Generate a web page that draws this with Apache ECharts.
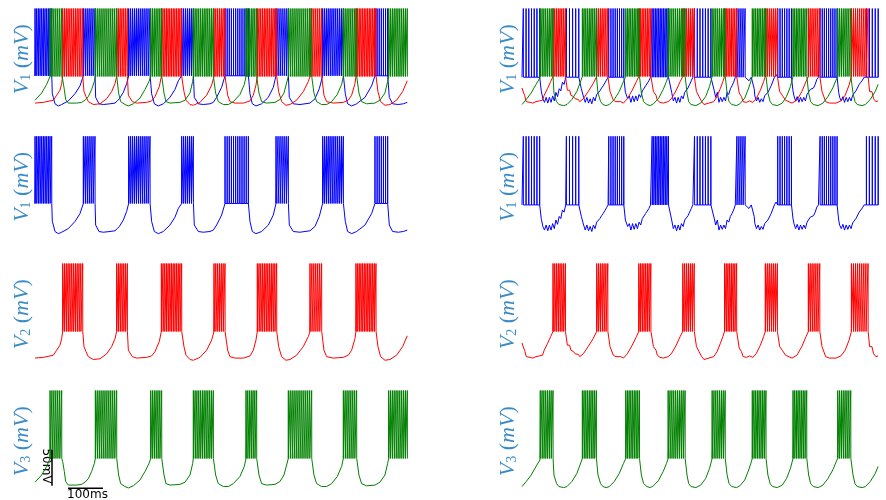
<!DOCTYPE html>
<html><head><meta charset="utf-8">
<script src="https://cdn.jsdelivr.net/npm/echarts@6/dist/echarts.min.js"></script>
<style>html,body{margin:0;padding:0;background:#fff}#c{width:886px;height:500px}</style>
</head><body><div id="c"></div><script>
// time in ms, voltage in mV
const timeSpan = 1063;
const vMin = -97, vMax = 40, spikePeak = 45;
const scaleBarTime = 100, scaleBarVolt = 50;
const yLabels = ['1', '1', '2', '3'];

// bursts: [start ms, end ms, number of spikes]; sub: subthreshold trajectory [ms, mV]
const plateau = {V1L: -53, V2L: -54, V3L: -54, V1R: -55, V2R: -54, V3R: -54};

const V1L_bursts = [[0,47.6,11],[138.1,171.4,7],[267.6,328.6,12],[419,452.4,7],[542.9,609.5,12],[688.6,723.8,7],[821.9,881,12],[971.4,1007.6,7]];
const V1L_sub = [[0,-53],[47.6,-53],[49.5,-78],[52.4,-83],[57.1,-92],[66.7,-95],[76.2,-93],[95.2,-88],[114.3,-78],[128.6,-67],[138.1,-53],
[171.4,-53],[173.3,-83],[182.9,-92],[195.2,-93],[214.3,-92],[228.6,-91],[235.2,-88],[241,-85],[252.4,-76],[261.9,-64],[267.6,-53],
[328.6,-53],[333.3,-78],[341,-92],[352.4,-95],[366.7,-92],[385.7,-83],[400,-72],[409.5,-60],[419,-53],
[452.4,-53],[455.2,-83],[466.7,-92],[481,-93],[500,-92],[509.5,-90],[519,-83],[533.3,-69],[542.9,-53],
[609.5,-53],[614.3,-78],[621,-92],[631.4,-95],[647.6,-92],[666.7,-83],[681,-69],[688.6,-53],
[723.8,-53],[726.7,-83],[738.1,-92],[757.1,-93],[785.7,-91],[800,-85],[812.4,-71],[821.9,-53],
[881,-53],[886.7,-78],[893.3,-92],[904.8,-95],[919,-92],[942.9,-83],[961.9,-67],[971.4,-53],
[1007.6,-53],[1012.4,-83],[1021.9,-92],[1038.1,-93],[1052.4,-92],[1063.8,-90]];

const V2L_bursts = [[79,136.2,12],[233.3,263.8,7],[361,419,13],[511.4,542.9,7],[635.2,690.5,12],[785.7,819,7],[917.1,974.3,13]];
const V2L_sub = [[0,-91],[23.8,-90],[42.9,-88],[52.4,-87],[61.9,-80],[71.4,-73],[76.2,-64],[79,-54],
[136.2,-54],[140,-75],[145.7,-82],[152.4,-89],[166.7,-93],[171.4,-94],[185.7,-92],[204.8,-85],[219,-75],[228.6,-64],[233.3,-54],
[263.8,-54],[266.7,-80],[278.1,-89],[290.5,-91],[319,-90],[333.3,-88],[342.9,-82],[355.2,-68],[361,-54],
[419,-54],[425.7,-75],[431.4,-87],[442.9,-93],[452.4,-94],[471.4,-90],[490.5,-80],[504.8,-66],[511.4,-54],
[542.9,-54],[550.5,-80],[557.1,-89],[571.4,-91],[595.2,-91],[614.3,-88],[623.8,-80],[631.4,-66],[635.2,-54],
[690.5,-54],[696.2,-75],[704.8,-89],[717.1,-94],[728.6,-93],[747.6,-87],[766.7,-75],[781,-61],[785.7,-54],
[819,-54],[825.7,-80],[833.3,-89],[852.4,-91],[881,-90],[895.2,-87],[904.8,-80],[914.3,-64],[917.1,-54],
[974.3,-54],[980,-75],[987.6,-89],[1000,-94],[1014.3,-93],[1033.3,-87],[1050.5,-75],[1063.8,-60]];

const V3L_bursts = [[42.9,76.2,7],[172.4,233.3,12],[330.5,361.9,7],[452.4,509.5,12],[602.9,633.3,7],[723.8,790.5,13],[881,919,8],[1010.5,1063.8,11]];
const V3L_sub = [[0,-87],[19,-77],[33.3,-65],[42.9,-54],
[76.2,-54],[79,-58],[83.8,-72],[87.6,-86],[95.2,-91],[119,-91],[133.3,-90],[142.9,-87],[152.4,-82],[161.9,-72],[169.5,-61],[172.4,-54],
[233.3,-54],[239,-77],[244.8,-89],[257.1,-93],[266.7,-95],[281,-92],[300,-84],[314.3,-72],[325.7,-61],[330.5,-54],
[361.9,-54],[368.6,-77],[374.3,-89],[385.7,-91],[414.3,-90],[428.6,-87],[442.9,-77],[450.5,-61],[452.4,-54],
[509.5,-54],[516.2,-77],[523.8,-89],[538.1,-93],[552.4,-93],[566.7,-89],[585.7,-79],[598.1,-65],[602.9,-54],
[633.3,-54],[640,-77],[647.6,-89],[661.9,-91],[685.7,-90],[700,-86],[711.4,-77],[719,-63],[723.8,-54],
[790.5,-54],[797.1,-77],[804.8,-89],[819,-93],[833.3,-93],[847.6,-89],[863.8,-79],[876.2,-65],[881,-54],
[919,-54],[925.7,-77],[933.3,-89],[947.6,-92],[971.4,-91],[985.7,-87],[1000,-77],[1007.6,-61],[1010.5,-54],
[1063.8,-54]];

const V1R_bursts = [[3.8,51.4,7],[129.5,165.7,5],[253.3,297.1,8],[380,427.6,11],[503.8,551.4,7],[627.6,651.4,5],[746.7,786.7,7],[870.5,920,9],[1005.7,1040,5]];
const V1R_sub = [[0,-55],[3.8,-55],
[51.4,-55],[56.2,-74],[61,-85],[65.7,-90],[70.5,-83],[75.2,-91],[80,-83],[84.8,-90],[89.5,-81],[94.3,-88],[99,-76],[103.8,-82],[108.6,-71],[113.3,-74],[118.1,-62],[122.9,-65],[127.6,-55],[129.5,-55],
[165.7,-55],[173.3,-71],[180,-83],[184.8,-90],[189.5,-83],[194.3,-91],[199,-85],[203.8,-92],[208.6,-83],[213.3,-88],[218.1,-79],[222.9,-81],[227.6,-74],[232.4,-70],[237.1,-67],[241.9,-63],[246.7,-59],[251.4,-55],[253.3,-55],
[297.1,-55],[301.9,-76],[308.6,-85],[313.3,-81],[318.1,-90],[322.9,-81],[327.6,-89],[332.4,-81],[337.1,-88],[341.9,-79],[346.7,-83],[351.4,-74],[356.2,-75],[361,-67],[365.7,-65],[370.5,-60],[375.2,-55],[380,-55],
[427.6,-55],[437.1,-76],[441.9,-88],[446.7,-83],[451.4,-91],[456.2,-83],[461,-90],[465.7,-81],[470.5,-85],[475.2,-76],[480,-77],[484.8,-70],[489.5,-65],[494.3,-60],[499,-55],[503.8,-55],
[551.4,-55],[561,-73],[565.7,-83],[570.5,-76],[575.2,-90],[580,-83],[584.8,-89],[589.5,-83],[594.3,-88],[599,-76],[603.8,-79],[608.6,-71],[613.3,-67],[618.1,-62],[622.9,-55],[627.6,-55],
[651.4,-55],[655.2,-55],[662.9,-60],[669.5,-55],[678.1,-71],[680,-81],[684.8,-88],[689.5,-83],[694.3,-90],[699,-85],[703.8,-89],[708.6,-81],[713.3,-83],[718.1,-76],[722.9,-74],[727.6,-67],[732.4,-65],[737.1,-55],[741.9,-51],[746.7,-55],
[786.7,-55],[791.4,-74],[794.3,-81],[799,-88],[803.8,-82],[808.6,-90],[813.3,-83],[818.1,-89],[822.9,-83],[827.6,-88],[832.4,-79],[837.1,-81],[841.9,-72],[846.7,-74],[851.4,-70],[856.2,-65],[861,-58],[865.7,-55],[870.5,-55],
[920,-55],[924.8,-76],[927.6,-83],[932.4,-88],[937.1,-82],[941.9,-90],[946.7,-83],[951.4,-89],[956.2,-83],[961,-88],[965.7,-80],[970.5,-81],[975.2,-74],[980,-72],[984.8,-65],[989.5,-62],[994.3,-59],[999,-55],[1005.7,-55],
[1040,-55]];

const V2R_bursts = [[90.5,126.7,8],[218.1,250.5,7],[341,376.2,8],[469.5,502.9,7],[591.4,626.7,8],[710.5,745.7,7],[836.2,869.5,7],[961.9,1010.5,9]];
const V2R_sub = [[0,-70],[4.8,-77],[7.6,-80],[12.4,-89],[17.1,-91],[23.8,-90],[31.4,-91],[41,-89],[45.7,-90],[50.5,-88],[55.2,-90],[60,-87],[64.8,-80],[74.3,-71],[83.8,-61],[90.5,-54],
[126.7,-54],[132.4,-73],[139,-73],[142.9,-80],[150.5,-82],[155.2,-85],[160,-87],[164.8,-86],[168.6,-89],[174.3,-90],[179,-85],[193.3,-75],[207.6,-64],[218.1,-54],
[250.5,-54],[257.1,-75],[262.9,-75],[266.7,-87],[274.3,-89],[288.6,-89],[296.2,-91],[307.6,-85],[321.9,-73],[334.3,-61],[341,-54],
[376.2,-54],[383.8,-75],[391.4,-80],[395.2,-87],[402.9,-90],[412.4,-91],[426.7,-89],[436.2,-85],[450.5,-73],[461.9,-61],[469.5,-54],
[502.9,-54],[509.5,-75],[517.1,-82],[524.8,-89],[531.4,-93],[545.7,-91],[560,-89],[569.5,-82],[579,-71],[586.7,-61],[591.4,-54],
[626.7,-54],[634.3,-77],[641,-82],[645.7,-89],[655.2,-90],[664.8,-88],[674.3,-90],[683.8,-85],[696.2,-73],[705.7,-61],[710.5,-54],
[745.7,-54],[752.4,-75],[760,-80],[769.5,-87],[774.3,-89],[788.6,-91],[802.9,-87],[817.1,-75],[829.5,-61],[836.2,-54],
[869.5,-54],[876.2,-75],[886.7,-89],[898.1,-91],[917.1,-91],[931.4,-88],[943.8,-80],[955.2,-66],[961.9,-54],
[1010.5,-54],[1015.2,-75],[1021.9,-75],[1026.7,-85],[1033.3,-89],[1040,-88]];

const V3R_bursts = [[53.3,90.5,8],[176.2,217.1,9],[302.9,342.9,9],[426.7,476.2,10],[555.2,593.3,8],[672.4,712.4,9],[791.4,831.4,9],[921.9,960,8]];
const V3R_sub = [[0,-93],[12.4,-86],[26.7,-77],[41,-65],[52.4,-56],[53.3,-54],
[90.5,-54],[93.3,-77],[101,-89],[107.6,-93],[121.9,-94.5],[131.4,-93],[145.7,-86],[160,-75],[169.5,-63],[176.2,-54],
[217.1,-54],[221.9,-77],[229.5,-89],[236.2,-93],[245.7,-94.5],[255.2,-93],[269.5,-86],[283.8,-75],[296.2,-61],[302.9,-54],
[342.9,-54],[348.6,-77],[355.2,-89],[364.8,-93],[374.3,-94.5],[383.8,-92],[398.1,-85],[412.4,-72],[421.9,-61],[426.7,-54],
[476.2,-54],[481.9,-77],[486.7,-89],[493.3,-93],[507.6,-94.5],[521.9,-91],[536.2,-82],[547.6,-68],[555.2,-54],
[593.3,-54],[599,-77],[604.8,-89],[612.4,-93],[626.7,-94.5],[636.2,-92],[650.5,-84],[661.9,-70],[669.5,-59],[672.4,-54],
[712.4,-54],[718.1,-77],[724.8,-89],[731.4,-93],[745.7,-94.5],[760,-91],[772.4,-82],[783.8,-68],[791.4,-54],
[831.4,-54],[837.1,-77],[842.9,-89],[850.5,-93],[864.8,-94.5],[879,-91],[893.3,-82],[907.6,-70],[917.1,-59],[921.9,-54],
[960,-54],[966.7,-77],[972.4,-89],[979,-93],[993.3,-94.5],[1002.9,-93],[1017.1,-86],[1031.4,-75],[1040,-65]];

function trace(sub, bursts, base) {
  const pts = sub.map(p => p.slice());
  bursts.forEach(([s, e, n]) => {
    for (let i = 0; i < n; i++) {
      const t = n > 1 ? s + i * (e - s) / (n - 1) : s;
      pts.push([t + 0.01, base], [t + 0.15, spikePeak], [t + 0.3, base]);
    }
  });
  pts.sort((a, b) => a[0] - b[0]);
  return pts;
}

const T = {
  V1L: trace(V1L_sub, V1L_bursts, plateau.V1L),
  V2L: trace(V2L_sub, V2L_bursts, plateau.V2L),
  V3L: trace(V3L_sub, V3L_bursts, plateau.V3L),
  V1R: trace(V1R_sub, V1R_bursts, plateau.V1R),
  V2R: trace(V2R_sub, V2R_bursts, plateau.V2R),
  V3R: trace(V3R_sub, V3R_bursts, plateau.V3R)
};
const COL = {V1: '#0000ff', V2: '#ff0000', V3: '#008000'};

const tops = [9, 136.7, 264, 391];
const gridH = 98.4;
const lefts = [35, 522];
const grids = [], xAxes = [], yAxes = [];
for (let c = 0; c < 2; c++) for (let r = 0; r < 4; r++) {
  grids.push({left: lefts[c], top: tops[r], width: 372, height: gridH});
  const gi = grids.length - 1;
  xAxes.push({type: 'value', gridIndex: gi, min: 0, max: timeSpan, show: false});
  yAxes.push({type: 'value', gridIndex: gi, min: vMin, max: vMax, show: false});
}
const series = [];
function line(gi, data, color, extra) {
  series.push(Object.assign({type: 'line', xAxisIndex: gi, yAxisIndex: gi, data: data, showSymbol: false,
    symbol: 'none', silent: true, animation: false, sampling: null,
    lineStyle: {color: color, width: 1}}, extra || {}));
}
['L', 'R'].forEach((side, c) => {
  const g0 = c * 4;
  line(g0, T['V1' + side], COL.V1);
  line(g0, T['V2' + side], COL.V2);
  line(g0, T['V3' + side], COL.V3);
  line(g0 + 1, T['V1' + side], COL.V1);
  line(g0 + 2, T['V2' + side], COL.V2);
  line(g0 + 3, T['V3' + side], COL.V3);
});
// scale bars (row 4, left)
const sbT = 48.6, sbV = -92, sbH0 = 94.3, sbHv = -95.5;
line(3, [[sbT, sbV], [sbT, sbV + scaleBarVolt]], '#000', {clip: false, lineStyle: {color: '#000', width: 1.5}});
line(3, [[sbH0, sbHv], [sbH0 + scaleBarTime, sbHv]], '#000', {clip: false, lineStyle: {color: '#000', width: 1.5}});

const labColor = '#3b8bc6';
const rich = {
  i: {fontFamily: 'Liberation Serif', fontStyle: 'italic', fontSize: 22, lineHeight: 22, verticalAlign: 'top', fill: labColor, color: labColor},
  u: {fontFamily: 'Liberation Serif', fontSize: 22, lineHeight: 22, verticalAlign: 'top', fill: labColor, color: labColor},
  s: {fontFamily: 'Liberation Serif', fontSize: 14, lineHeight: 10, verticalAlign: 'bottom', fill: labColor, color: labColor}
};
const graphic = [];
[22, 508].forEach(x => {
  tops.forEach((t, r) => {
    graphic.push({type: 'text', x: x, y: t + gridH / 2 + 1, rotation: Math.PI / 2, silent: true,
      style: {text: '{i|V}{s|' + yLabels[r] + '}{u| (}{i|mV}{u|)}', rich: rich, align: 'center', verticalAlign: 'middle', fill: labColor}});
  });
});
graphic.push({type: 'text', x: 46.5, y: 466, rotation: -Math.PI / 2, silent: true,
  style: {text: scaleBarVolt + 'mV', font: '12px "DejaVu Sans"', fill: '#000', align: 'center', verticalAlign: 'middle'}});
graphic.push({type: 'text', x: 87.5, y: 495, silent: true,
  style: {text: scaleBarTime + 'ms', font: '12px "DejaVu Sans"', fill: '#000', align: 'center', verticalAlign: 'middle'}});

const chart = echarts.init(document.getElementById('c'), null, {renderer: 'canvas'});
chart.setOption({animation: false, backgroundColor: '#fff', grid: grids, xAxis: xAxes, yAxis: yAxes, series: series, graphic: graphic});
</script></body></html>
